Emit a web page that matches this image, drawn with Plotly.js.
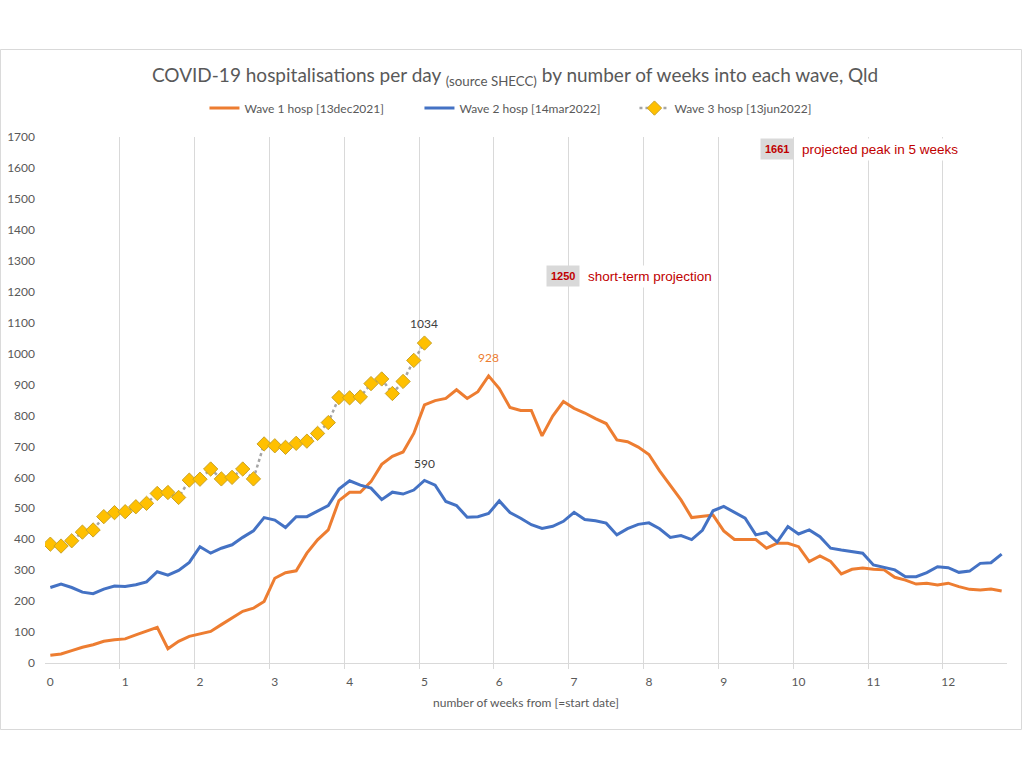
<!DOCTYPE html>
<html>
<head>
<meta charset="utf-8">
<script src="https://cdn.plot.ly/plotly-3.0.1.min.js"></script>
<style>html,body{margin:0;padding:0;background:#fff;}#chart{width:1024px;height:768px;}</style>
</head>
<body>
<div id="chart"></div>
<script>
// ---- data (daily values, day 0 = wave start) ----
const seriesNames = ['Wave 1 hosp [13dec2021]', 'Wave 2 hosp [14mar2022]', 'Wave 3 hosp [13jun2022]'];
const wave1 = [25,29,40,51,59,70,75,78,91,102,115,46,70,86,94,102,124,145,167,177,
  199,274,292,298,355,398,430,525,552,552,586,642,668,682,742,834,848,855,883,855,
  877,928,887,826,816,816,734,798,845,823,808,790,774,721,715,698,674,621,572,527,
  470,475,478,427,399,399,399,371,387,387,376,328,346,328,288,303,307,303,301,277,
  268,255,258,252,258,247,238,236,239,233];
const wave2 = [244,255,244,229,224,239,249,247,253,262,295,284,299,325,376,355,371,382,406,427,
  470,462,438,473,473,491,509,562,589,575,565,528,552,546,559,590,575,522,509,471,
  473,483,524,486,468,447,435,442,458,487,464,460,452,414,434,448,453,434,406,412,
  399,429,492,506,487,468,414,422,391,441,417,430,408,371,365,360,355,317,308,301,
  279,279,292,311,308,293,297,322,324,352];
const wave3 = [384,378,395,423,430,473,486,489,505,516,548,551,535,591,594,627,595,600,627,595,
  708,702,697,710,717,742,777,858,857,860,903,918,871,910,978,1034];
const weekLabels = ['0','1','2','3','4','5','6','7','8','9','10','11','12'];
const daysPerWeek = 7;
// projection labels
const projDays = [48, 68];
const projValues = [1250, 1661];
const projTexts = ['short-term projection', 'projected peak in 5 weeks'];

// ---- derived ----
const days1 = wave1.map((_, i) => i);
const days2 = wave2.map((_, i) => i);
const days3 = wave3.map((_, i) => i);
const tickVals = weekLabels.map((_, k) => k * daysPerWeek);
const gridVals = weekLabels.slice(1).map((_, k) => (k + 1) * daysPerWeek - 0.5);
const halfTickVals = weekLabels.map((_, k) => k * daysPerWeek + 3);
const xRange = [-0.5, wave1.length - 0.5];

const colors = ['#ED7D31', '#4472C4', '#A5A5A5'];

const traces = [
  {x: days1, y: wave1, name: seriesNames[0], type: 'scatter', mode: 'lines',
   line: {color: colors[0], width: 3}},
  {x: days2, y: wave2, name: seriesNames[1], type: 'scatter', mode: 'lines',
   line: {color: colors[1], width: 3}},
  {x: days3, y: wave3, name: seriesNames[2], type: 'scatter', mode: 'lines+markers',
   line: {color: colors[2], width: 2.5, dash: 'dot'},
   marker: {symbol: 'diamond', size: 11, color: '#FFC000', line: {color: '#C9A227', width: 1}}}
];

function peakIdx(arr) { return arr.indexOf(Math.max(...arr)); }
const i1 = peakIdx(wave1), i2 = peakIdx(wave2), i3 = wave3.length - 1;

const annotations = [
  {x: days3[i3], y: wave3[i3], text: String(wave3[i3]), showarrow: false, yshift: 20,
   font: {size: 12, color: '#404040'}},
  {x: days1[i1], y: wave1[i1], text: String(wave1[i1]), showarrow: false, yshift: 18,
   font: {size: 12, color: '#ED7D31'}},
  {x: days2[i2], y: wave2[i2], text: String(wave2[i2]), showarrow: false, yshift: 17,
   font: {size: 12, color: '#404040'}}
];
projDays.forEach((d, k) => {
  annotations.push({x: d, y: projValues[k], text: '<b>' + projValues[k] + '</b>', showarrow: false,
    xanchor: 'center', yanchor: 'middle', bgcolor: '#D9D9D9', borderpad: 4,
    font: {family: 'Liberation Sans, Arial, sans-serif', size: 11, color: '#C00000'}});
  annotations.push({x: d, y: projValues[k], text: projTexts[k], showarrow: false,
    xanchor: 'left', yanchor: 'middle', xshift: 21, bgcolor: '#FFFFFF', borderpad: 3,
    font: {family: 'Liberation Sans, Arial, sans-serif', size: 13.5, color: '#C00000'}});
});

const layout = {
  width: 1024, height: 768,
  paper_bgcolor: '#FFFFFF', plot_bgcolor: '#FFFFFF',
  margin: {l: 45, r: 17, t: 137, b: 105},
  font: {family: 'Lato, Calibri, sans-serif', color: '#595959', size: 12},
  showlegend: true,
  hovermode: false,
  title: {
    text: 'COVID-19 hospitalisations per day <sub>(source SHECC)</sub> by number of weeks into each wave, Qld',
    font: {size: 19, color: '#595959'},
    x: 0.503, xref: 'container', xanchor: 'center',
    y: 0.902, yref: 'container', yanchor: 'middle'
  },
  legend: {
    orientation: 'h', x: 0.501, xanchor: 'center', y: 1.055, yanchor: 'middle',
    font: {size: 12, color: '#595959'}, bgcolor: 'rgba(0,0,0,0)',
    entrywidth: 170, entrywidthmode: 'pixels'
  },
  xaxis: {
    range: xRange, tickmode: 'array', tickvals: tickVals, ticktext: weekLabels,
    showgrid: false, zeroline: false, showline: true, linecolor: '#D9D9D9', linewidth: 1,
    ticks: '', ticklabelstandoff: 8, tickfont: {size: 12, color: '#595959'},
    minor: {tickmode: 'array', tickvals: gridVals, showgrid: true, gridcolor: '#D9D9D9', gridwidth: 1,
            ticks: 'outside', ticklen: 5, tickcolor: '#D9D9D9'},
    title: {text: 'number of weeks from [=start date]', font: {size: 12, color: '#595959'}, standoff: 10},
    fixedrange: true
  },
  xaxis2: {
    overlaying: 'x', anchor: 'y', side: 'bottom', range: xRange,
    tickmode: 'array', tickvals: halfTickVals, ticks: 'outside', ticklen: 5, tickcolor: '#D9D9D9',
    showticklabels: false, showgrid: false, zeroline: false, showline: false, fixedrange: true
  },
  yaxis: {
    range: [0, 1700], tick0: 0, dtick: 100, showgrid: false, zeroline: false, showline: false,
    ticks: '', ticklabelstandoff: 9, tickfont: {size: 12, color: '#595959'}, fixedrange: true
  },
  shapes: [
    {type: 'rect', xref: 'paper', yref: 'paper', x0: -0.0463, x1: 1.0151, y0: -0.1264, y1: 1.1663,
     line: {color: '#D9D9D9', width: 1}, fillcolor: 'rgba(0,0,0,0)', layer: 'below'}
  ],
  annotations: annotations
};

Plotly.newPlot('chart', traces, layout, {displayModeBar: false, staticPlot: true});
</script>
</body>
</html>
